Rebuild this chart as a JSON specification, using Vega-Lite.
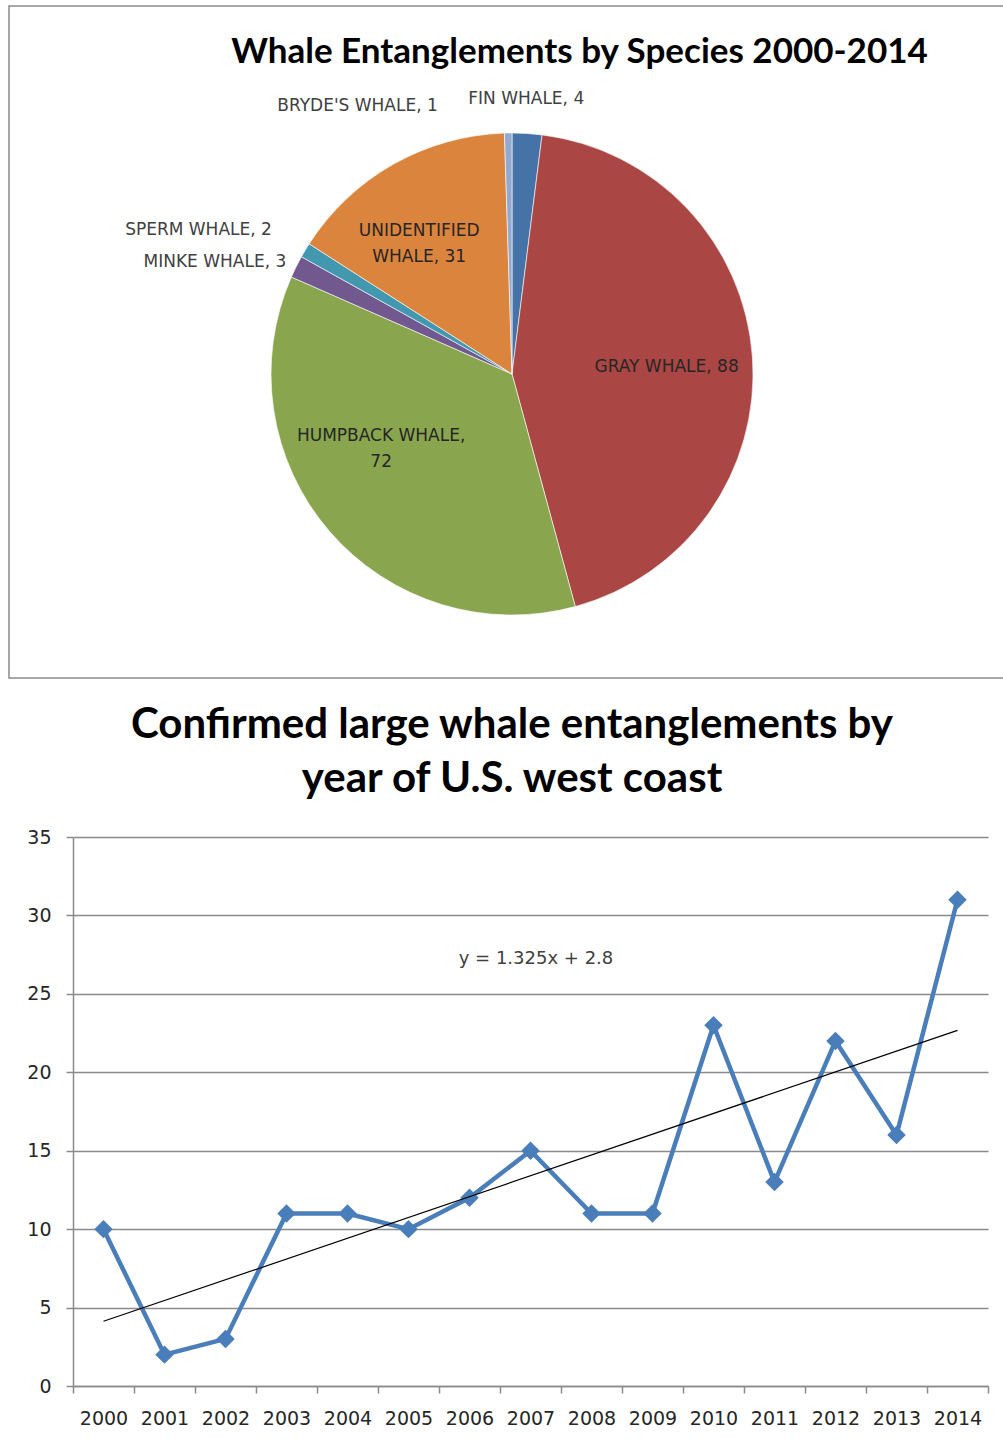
{
  "$schema": "https://vega.github.io/schema/vega-lite/v6.json",
  "background": "white",
  "padding": {"left": 8, "top": 5, "right": 0, "bottom": 0},
  "spacing": 25,
  "config": {"view": {"stroke": null}},
  "datasets": {
    "species": [
      {"species": "FIN WHALE", "count": 4, "order": 1, "label": "FIN WHALE, 4"},
      {"species": "GRAY WHALE", "count": 88, "order": 2, "label": "GRAY WHALE, 88"},
      {"species": "HUMPBACK WHALE", "count": 72, "order": 3, "label": "HUMPBACK WHALE,\n72"},
      {"species": "MINKE WHALE", "count": 3, "order": 4, "label": "MINKE WHALE, 3"},
      {"species": "SPERM WHALE", "count": 2, "order": 5, "label": "SPERM WHALE, 2"},
      {"species": "UNIDENTIFIED WHALE", "count": 31, "order": 6, "label": "UNIDENTIFIED\nWHALE, 31"},
      {"species": "BRYDE'S WHALE", "count": 1, "order": 7, "label": "BRYDE'S WHALE, 1"}
    ],
    "years": [
      {"year": 2000, "count": 10},
      {"year": 2001, "count": 2},
      {"year": 2002, "count": 3},
      {"year": 2003, "count": 11},
      {"year": 2004, "count": 11},
      {"year": 2005, "count": 10},
      {"year": 2006, "count": 12},
      {"year": 2007, "count": 15},
      {"year": 2008, "count": 11},
      {"year": 2009, "count": 11},
      {"year": 2010, "count": 23},
      {"year": 2011, "count": 13},
      {"year": 2012, "count": 22},
      {"year": 2013, "count": 16},
      {"year": 2014, "count": 31}
    ],
    "trend": [
      {"year": 2000, "count": 4.125},
      {"year": 2014, "count": 22.675}
    ],
    "equation": [
      {"year": 2007.09, "count": 27.22, "text": "y = 1.325x + 2.8"}
    ],
    "blank": [
      {"text": ""}
    ]
  },
  "vconcat": [
    {
      "width": 995,
      "height": 672,
      "view": {"stroke": "#8a8a8a", "strokeWidth": 1.5},
      "title": {
        "text": "Whale Entanglements by Species 2000-2014",
        "font": "Lato",
        "fontSize": 35,
        "fontWeight": "bold",
        "color": "#000000",
        "anchor": "middle",
        "frame": "group",
        "dx": 73,
        "baseline": "alphabetic",
        "offset": -92
      },
      "data": {"name": "species"},
      "encoding": {
        "theta": {"field": "count", "type": "quantitative", "stack": true},
        "order": {"field": "order", "type": "quantitative"}
      },
      "layer": [
        {
          "mark": {
            "type": "arc",
            "outerRadius": 241,
            "x": {"expr": "concat_0_width/2 + 5.5"},
            "y": {"expr": "concat_0_height/2 + 32"},
            "stroke": "white",
            "strokeWidth": 0.6
          },
          "encoding": {
            "color": {
              "field": "species",
              "type": "nominal",
              "legend": null,
              "sort": ["FIN WHALE", "GRAY WHALE", "HUMPBACK WHALE", "MINKE WHALE", "SPERM WHALE", "UNIDENTIFIED WHALE", "BRYDE'S WHALE"],
              "scale": {
                "domain": ["FIN WHALE", "GRAY WHALE", "HUMPBACK WHALE", "MINKE WHALE", "SPERM WHALE", "UNIDENTIFIED WHALE", "BRYDE'S WHALE"],
                "range": ["#4572A7", "#AA4643", "#89A54E", "#71588F", "#4198AF", "#DB843D", "#93A9CF"]
              }
            }
          }
        },
        {
          "mark": {"type": "text", "x": {"expr": "concat_0_width/2 + 5.5"}, "y": {"expr": "concat_0_height/2 + 32"}, "radius": 155, "dy": 4, "align": "center", "baseline": "middle", "font": "DejaVu Sans", "fontSize": 17, "fill": "#262626"},
          "encoding": {
            "detail": {"field": "species"},
            "text": {"condition": {"test": "datum.species === 'GRAY WHALE'", "field": "label"}, "value": ""}
          }
        },
        {
          "mark": {"type": "text", "x": {"expr": "concat_0_width/2 + 5.5"}, "y": {"expr": "concat_0_height/2 + 32"}, "radius": 145, "dx": -21, "dy": -33, "align": "center", "baseline": "middle", "lineBreak": "\n", "lineHeight": 26, "font": "DejaVu Sans", "fontSize": 17, "fill": "#262626"},
          "encoding": {
            "detail": {"field": "species"},
            "text": {"condition": {"test": "datum.species === 'HUMPBACK WHALE'", "field": "label"}, "value": ""}
          }
        },
        {
          "mark": {"type": "text", "x": {"expr": "concat_0_width/2 + 5.5"}, "y": {"expr": "concat_0_height/2 + 32"}, "radius": 170, "dx": -9, "dy": 5, "align": "center", "baseline": "middle", "lineBreak": "\n", "lineHeight": 26, "font": "DejaVu Sans", "fontSize": 17, "fill": "#262626"},
          "encoding": {
            "detail": {"field": "species"},
            "text": {"condition": {"test": "datum.species === 'UNIDENTIFIED WHALE'", "field": "label"}, "value": ""}
          }
        },
        {
          "mark": {"type": "text", "x": {"expr": "concat_0_width/2 + 5.5"}, "y": {"expr": "concat_0_height/2 + 32"}, "radius": 276, "dx": -3, "align": "center", "baseline": "middle", "font": "DejaVu Sans", "fontSize": 17, "fill": "#404040"},
          "encoding": {
            "detail": {"field": "species"},
            "text": {"condition": {"test": "datum.species === 'FIN WHALE'", "field": "label"}, "value": ""}
          }
        },
        {
          "mark": {"type": "text", "x": {"expr": "concat_0_width/2 + 5.5"}, "y": {"expr": "concat_0_height/2 + 32"}, "radius": 268, "dx": -70, "align": "right", "baseline": "middle", "font": "DejaVu Sans", "fontSize": 17, "fill": "#404040"},
          "encoding": {
            "detail": {"field": "species"},
            "text": {"condition": {"test": "datum.species === \"BRYDE'S WHALE\"", "field": "label"}, "value": ""}
          }
        },
        {
          "mark": {"type": "text", "x": {"expr": "concat_0_width/2 + 5.5"}, "y": {"expr": "concat_0_height/2 + 32"}, "radius": 281, "dx": 1, "align": "right", "baseline": "middle", "font": "DejaVu Sans", "fontSize": 17, "fill": "#404040"},
          "encoding": {
            "detail": {"field": "species"},
            "text": {"condition": {"test": "datum.species === 'SPERM WHALE'", "field": "label"}, "value": ""}
          }
        },
        {
          "mark": {"type": "text", "x": {"expr": "concat_0_width/2 + 5.5"}, "y": {"expr": "concat_0_height/2 + 32"}, "radius": 252, "align": "right", "baseline": "middle", "font": "DejaVu Sans", "fontSize": 17, "fill": "#404040"},
          "encoding": {
            "detail": {"field": "species"},
            "text": {"condition": {"test": "datum.species === 'MINKE WHALE'", "field": "label"}, "value": ""}
          }
        }
      ]
    },
    {
      "spacing": 0,
      "hconcat": [
        {
          "width": 1,
          "height": 1,
          "data": {"name": "blank"},
          "mark": {"type": "text"},
          "encoding": {"text": {"field": "text"}}
        },
        {
          "width": 915,
          "height": 549,
          "title": {
            "text": ["Confirmed large whale entanglements by", "year of U.S. west coast"],
            "font": "Lato",
            "fontSize": 42,
            "fontWeight": "bold",
            "color": "#000000",
            "anchor": "middle",
            "frame": "group",
            "dx": -18.5,
            "lineHeight": 54,
            "offset": 27
          },
          "encoding": {
            "x": {
              "field": "year",
              "type": "quantitative",
              "scale": {"domain": [1999.5, 2014.5], "nice": false, "zero": false},
              "axis": {
                "title": null,
                "values": [1999.5, 2000.5, 2001.5, 2002.5, 2003.5, 2004.5, 2005.5, 2006.5, 2007.5, 2008.5, 2009.5, 2010.5, 2011.5, 2012.5, 2013.5, 2014.5],
                "labelExpr": "datum.value > 2014 ? '' : format(datum.value + 0.5, 'd')",
                "labelOffset": 30.5,
                "labelFlush": false,
                "labelOverlap": false,
                "labelBound": false,
                "grid": false,
                "domainColor": "#8a8a8a",
                "domainWidth": 1.5,
                "tickColor": "#8a8a8a",
                "tickWidth": 1.5,
                "tickSize": 7,
                "labelPadding": 16,
                "labelFont": "DejaVu Sans",
                "labelFontSize": 19,
                "labelColor": "#262626"
              }
            },
            "y": {
              "field": "count",
              "type": "quantitative",
              "scale": {"domain": [0, 35], "nice": false},
              "axis": {
                "title": null,
                "values": [0, 5, 10, 15, 20, 25, 30, 35],
                "grid": true,
                "gridColor": "#8a8a8a",
                "gridWidth": 1.5,
                "domainColor": "#8a8a8a",
                "domainWidth": 1.5,
                "tickColor": "#8a8a8a",
                "tickWidth": 1.5,
                "tickSize": 7,
                "labelPadding": 15,
                "labelFont": "DejaVu Sans",
                "labelFontSize": 19,
                "labelColor": "#262626",
                "minExtent": 63,
                "maxExtent": 63
              }
            }
          },
          "layer": [
            {
              "data": {"name": "years"},
              "mark": {"type": "line", "color": "#4A7EBB", "strokeWidth": 4.5}
            },
            {
              "data": {"name": "years"},
              "mark": {"type": "point", "shape": "diamond", "filled": true, "size": 340, "color": "#4A7EBB", "opacity": 1}
            },
            {
              "data": {"name": "trend"},
              "mark": {"type": "line", "color": "#000000", "strokeWidth": 1.2}
            },
            {
              "data": {"name": "equation"},
              "mark": {"type": "text", "font": "DejaVu Sans", "fontSize": 18, "fill": "#404040", "align": "center", "baseline": "middle"},
              "encoding": {"text": {"field": "text"}}
            }
          ]
        }
      ]
    }
  ]
}
